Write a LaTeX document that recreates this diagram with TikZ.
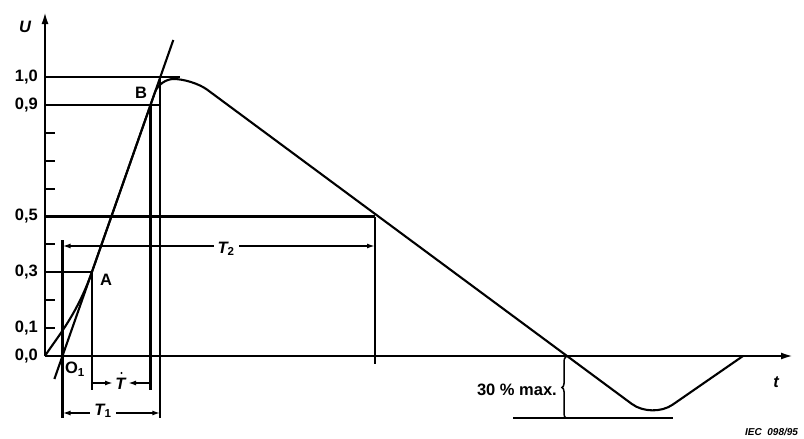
\documentclass[tikz,border=0pt]{standalone}
\usepackage{fontspec}
\setmainfont{Liberation Sans}
\usetikzlibrary{arrows.meta,decorations.pathreplacing}
\begin{document}
\begin{tikzpicture}[x=1pt,y=-1pt,
  ln/.style={line width=2.1pt},
  thinln/.style={line width=1.8pt},
  lbl/.style={font=\fontsize{16.5}{16.5}\selectfont\bfseries, inner sep=0pt},
  ilbl/.style={font=\fontsize{16.5}{16.5}\selectfont\bfseries\itshape, inner sep=0pt},
  dimtip/.style={-{Latex[length=8pt,width=5pt]}},
  dimln/.style={line width=1.8pt, {Latex[length=8pt,width=5pt]}-{Latex[length=8pt,width=5pt]}},
  gap/.style={fill=white, inner xsep=4pt, inner ysep=1pt},
]
\useasboundingbox (0,0) rectangle (804,439);
% key points
\coordinate (O) at (45,356);
\coordinate (Utop) at (45,12);
\coordinate (tend) at (793,356);
\coordinate (O1) at (62.5,356);
\coordinate (A) at (91.8,272.3);
\coordinate (B) at (150.5,105);
\coordinate (C) at (160.3,77);
\coordinate (P50) at (375,216.5);
\coordinate (Z) at (567,356);
% axes
\draw[ln,-{Latex[length=12pt,width=7pt]}] (O) -- (Utop);
\draw[ln,-{Latex[length=12pt,width=7pt]}] (O) -- (tend);
\node[ilbl] (U) at (25,27) {U};
\node[ilbl] (t) at (776,382) {t};
% ticks
\foreach \v in {0.1,0.2,...,0.95}
  \draw[ln] (45,{356-279*\v}) -- ++(10,0);
% tick labels
\node[lbl,anchor=east] (l10) at (38,77) {1,0};
\node[lbl,anchor=east] (l09) at (38,105) {0,9};
\node[lbl,anchor=east] (l05) at (38,216.5) {0,5};
\node[lbl,anchor=east] (l03) at (38,272.3) {0,3};
\node[lbl,anchor=east] (l01) at (38,328) {0,1};
\node[lbl,anchor=east] (l00) at (38,356) {0,0};
% level lines
\draw[ln] (45,77) -- (180,77);
\draw[ln] (45,105) -- (C |- B);
\draw[ln] (45,216.5) -- (P50);
\draw[ln] (45,272.3) -- (A);
% impulse curve
\draw[ln, line join=round] (O) .. controls (55,340) and (76.4,316.3) .. (A)
  -- (155,92.2) .. controls (157.5,84.9) and (165.9,79) .. (173.6,79)
  .. controls (184.1,79) and (199.2,83.8) .. (207.2,89.7)
  -- (631.9,404) .. controls (643,412.2) and (661.3,412.5) .. (672.6,404.7)
  -- (743,356);
% front tangent
\draw[ln] (54.4,379) -- (173.3,40);
% vertical lines
\draw[ln] (62.5,240) -- (62.5,418);
\draw[ln] (A) -- (91.8,390);
\draw[ln] (B) -- (150.5,390);
\draw[ln] (C) -- (160.3,418);
\draw[ln] (P50) -- (375,364);
% labels on curve
\node[lbl] (Blbl) at (141,93) {B};
\node[lbl] (Albl) at (106,280) {A};
\node[lbl] (O1lbl) at (75,369) {O\textsubscript{1}};
% T2 dimension
\draw[dimln] (62.5,246) -- (375,246);
\node[ilbl,gap] (T2) at (226,249) {T\textsubscript{\upshape 2}};
% T dimension
\draw[thinln,dimtip] (91.8,383) -- (113,383);
\draw[thinln,dimtip] (150.5,383) -- (128,383);
\node[ilbl] (T) at (120.5,384) {T};
\fill (121.5,373) circle (1.2pt);
% T1 dimension
\draw[dimln] (62.5,413) -- (160.3,413);
\node[ilbl,gap] (T1) at (103,411) {T\textsubscript{\upshape 1}};
% undershoot
\draw[ln] (513,418) -- (673,418);
\draw[line width=1.5pt, decorate, decoration={brace,amplitude=4pt}] (566,418) -- (566,357);
\node[lbl,anchor=east] (u30) at (557,390) {30 \% max.};
\node[anchor=west, inner sep=0pt, font=\fontsize{10}{10}\selectfont\bfseries\itshape] (iec) at (745,432) {IEC\ \ 098/95};
\end{tikzpicture}
\end{document}
